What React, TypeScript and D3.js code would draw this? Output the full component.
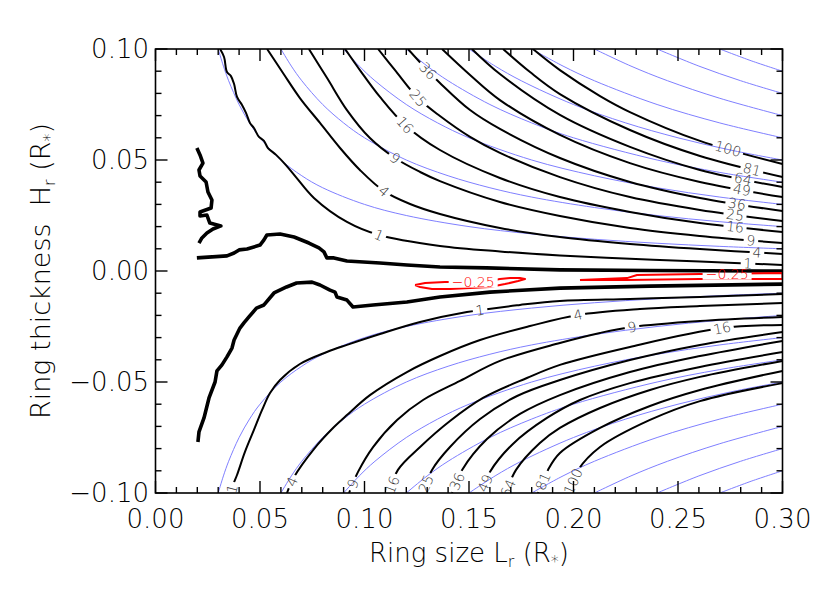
import React from 'react';
import * as d3 from 'd3';

type P = [number, number];

// ---------- axes ----------
const xTickValues = [0, 0.05, 0.1, 0.15, 0.2, 0.25, 0.3];
const xTickLabels = ['0.00', '0.05', '0.10', '0.15', '0.20', '0.25', '0.30'];
const yTickValues = [-0.1, -0.05, 0, 0.05, 0.1];
const yTickLabels = ['\u22120.10', '\u22120.05', '0.00', '0.05', '0.10'];

// ---------- contour levels ----------
const levels = ['1', '4', '9', '16', '25', '36', '49', '64', '81', '100'];

// black contours above zero (x = ring size, y = ring thickness)
const upperBlack: P[][] = [
  [[0.0309, 0.1], [0.0328, 0.0964], [0.0342, 0.0896], [0.0361, 0.0878], [0.0376, 0.0842], [0.039, 0.0784], [0.0414, 0.0748], [0.0433, 0.0712], [0.0452, 0.0667], [0.0471, 0.0644], [0.0495, 0.0604], [0.0519, 0.0586], [0.0538, 0.0554], [0.0577, 0.0523], [0.0624, 0.0477], [0.0672, 0.0423], [0.0758, 0.0329], [0.0916, 0.0221], [0.1069, 0.0162], [0.1361, 0.0113], [0.1648, 0.0088], [0.1935, 0.007], [0.227, 0.0055], [0.2605, 0.0043], [0.3, 0.0027]],
  [[0.0534, 0.1], [0.061, 0.0892], [0.0691, 0.0779], [0.0787, 0.0667], [0.0883, 0.0554], [0.0978, 0.0455], [0.1093, 0.036], [0.1218, 0.0302], [0.1361, 0.0257], [0.1648, 0.0194], [0.1935, 0.0153], [0.227, 0.0122], [0.2605, 0.0099], [0.3, 0.0077]],
  [[0.0734, 0.1], [0.0821, 0.0869], [0.0916, 0.0725], [0.1026, 0.0599], [0.1146, 0.0509], [0.1266, 0.0446], [0.1361, 0.0405], [0.1648, 0.0311], [0.1935, 0.0248], [0.227, 0.0194], [0.2605, 0.0158], [0.3, 0.0126]],
  [[0.0907, 0.1], [0.0978, 0.0905], [0.1074, 0.0784], [0.1194, 0.0658], [0.1361, 0.0545], [0.1648, 0.0419], [0.1935, 0.0333], [0.227, 0.0266], [0.2605, 0.0216], [0.3, 0.0176]],
  [[0.1065, 0.1], [0.1146, 0.0905], [0.1256, 0.0779], [0.1361, 0.0698], [0.1505, 0.0604], [0.1648, 0.0532], [0.1935, 0.0423], [0.227, 0.0333], [0.2605, 0.0275], [0.3, 0.0225]],
  [[0.1208, 0.1], [0.1304, 0.0901], [0.1361, 0.0847], [0.1505, 0.0725], [0.1648, 0.064], [0.1935, 0.0509], [0.227, 0.0401], [0.2605, 0.0329], [0.3, 0.027]],
  [[0.1371, 0.1], [0.1505, 0.0883], [0.1648, 0.077], [0.1935, 0.0613], [0.227, 0.0486], [0.2605, 0.0401], [0.3, 0.0333]],
  [[0.1514, 0.1], [0.1648, 0.0887], [0.1935, 0.0703], [0.227, 0.0559], [0.2605, 0.0455], [0.3, 0.0378]],
  [[0.1663, 0.1], [0.1792, 0.0896], [0.1935, 0.0797], [0.227, 0.0635], [0.2605, 0.0518], [0.3, 0.0423]],
  [[0.1806, 0.1], [0.1935, 0.0905], [0.2127, 0.0788], [0.227, 0.0716], [0.2605, 0.0586], [0.3, 0.0482]],
];
const upperLabelX: number[][] = [
  [0.1069, 0.2835], [0.1093, 0.2878], [0.1146, 0.2849], [0.1194, 0.2773], [0.1256, 0.2773],
  [0.1304, 0.2782], [0.2806], [0.2811], [0.2854], [0.2739],
];

// black contours below zero
const lowerBlack: P[][] = [
  [[0.0361, -0.1], [0.0371, -0.0964], [0.039, -0.0919], [0.0428, -0.0815], [0.0471, -0.0716], [0.051, -0.0626], [0.0548, -0.055], [0.0596, -0.0491], [0.0691, -0.0419], [0.082, -0.0365], [0.0916, -0.0333], [0.1074, -0.0284], [0.1266, -0.023], [0.149, -0.0185], [0.1744, -0.0153], [0.1935, -0.0135], [0.227, -0.0126], [0.2605, -0.0117], [0.3, -0.0104]],
  [[0.0629, -0.1], [0.0663, -0.0928], [0.0758, -0.0802], [0.0854, -0.0703], [0.0916, -0.0649], [0.1026, -0.0559], [0.1203, -0.0455], [0.1361, -0.0383], [0.1553, -0.0311], [0.1792, -0.0248], [0.2021, -0.0198], [0.2318, -0.0171], [0.2605, -0.0158], [0.3, -0.0144]],
  [[0.0926, -0.1], [0.0969, -0.0905], [0.1041, -0.0793], [0.1156, -0.0671], [0.128, -0.0581], [0.1457, -0.0495], [0.1648, -0.0405], [0.1935, -0.0324], [0.2127, -0.0279], [0.228, -0.0252], [0.2605, -0.0225], [0.3, -0.0207]],
  [[0.1117, -0.1], [0.116, -0.0896], [0.1266, -0.0793], [0.1409, -0.0676], [0.1567, -0.0572], [0.1777, -0.0482], [0.1935, -0.0423], [0.227, -0.0342], [0.2711, -0.0257], [0.3, -0.0243]],
  [[0.1275, -0.1], [0.1323, -0.0896], [0.1409, -0.0793], [0.1553, -0.0667], [0.173, -0.0563], [0.1935, -0.0491], [0.227, -0.0401], [0.2605, -0.0333], [0.3, -0.0275]],
  [[0.1419, -0.1], [0.1467, -0.0896], [0.1586, -0.0757], [0.1744, -0.0644], [0.1935, -0.0559], [0.227, -0.0455], [0.2605, -0.0383], [0.3, -0.0315]],
  [[0.1557, -0.1], [0.16, -0.0905], [0.171, -0.0779], [0.1873, -0.0662], [0.2031, -0.0581], [0.227, -0.0505], [0.2605, -0.0432], [0.3, -0.0365]],
  [[0.1677, -0.1], [0.1725, -0.0896], [0.1839, -0.0775], [0.1935, -0.0707], [0.2127, -0.0617], [0.2366, -0.0536], [0.2605, -0.0477], [0.3, -0.0405]],
  [[0.183, -0.1], [0.1878, -0.0896], [0.1935, -0.082], [0.2127, -0.0707], [0.2366, -0.0608], [0.2605, -0.0536], [0.3, -0.045]],
  [[0.1974, -0.1], [0.2022, -0.0896], [0.2127, -0.0793], [0.2366, -0.0671], [0.2605, -0.0586], [0.3, -0.0505]],
];
const lowerLabelX: number[][] = [
  [0.0366, 0.1553], [0.0653, 0.2021], [0.0945, 0.228], [0.1132, 0.2711], [0.1294],
  [0.1443], [0.1577], [0.1687], [0.1854], [0.1998],
];

// zero-level contours (thick)
const zeroUpperLeft: P[] = [
  [0.0198, 0.0554], [0.0213, 0.0523], [0.0227, 0.0486], [0.0208, 0.0455], [0.0213, 0.0428], [0.0242, 0.0401], [0.0251, 0.0356], [0.027, 0.032], [0.0266, 0.0284], [0.0213, 0.0266], [0.0213, 0.0248], [0.0246, 0.0252], [0.026, 0.0216], [0.0313, 0.0203], [0.0275, 0.0189], [0.0246, 0.0171], [0.0222, 0.0149], [0.0208, 0.0126],
];
const zeroUpper: P[] = [
  [0.0198, 0.0059], [0.0342, 0.0068], [0.0376, 0.0081], [0.04, 0.0095], [0.0438, 0.0099], [0.05, 0.0117], [0.0519, 0.014], [0.0533, 0.0162], [0.0596, 0.0167], [0.0663, 0.0153], [0.0734, 0.0126], [0.0782, 0.0104], [0.0806, 0.0086], [0.082, 0.0059], [0.0854, 0.0059], [0.0916, 0.0045], [0.1074, 0.0036], [0.1203, 0.0027], [0.1361, 0.0018], [0.1585, 0.0014], [0.1935, 0.0005], [0.2366, 0.0002], [0.3, 0.0],
];
const zeroLower: P[] = [
  [0.0203, -0.077], [0.0208, -0.0725], [0.0232, -0.0662], [0.0256, -0.0572], [0.0285, -0.05], [0.0294, -0.045], [0.0318, -0.0423], [0.0342, -0.0387], [0.0366, -0.0347], [0.0376, -0.0311], [0.0404, -0.0257], [0.0423, -0.0234], [0.0447, -0.0207], [0.0483, -0.0167], [0.0519, -0.0153], [0.0567, -0.0099], [0.0627, -0.0072], [0.0675, -0.0054], [0.0749, -0.005], [0.0787, -0.0063], [0.0835, -0.0086], [0.0859, -0.0095], [0.0868, -0.0117], [0.0916, -0.0131], [0.0945, -0.0162], [0.1041, -0.0153], [0.1203, -0.014], [0.1361, -0.0117], [0.16, -0.0095], [0.1935, -0.0077], [0.2366, -0.0068], [0.3, -0.0059],
];

// negative level (-0.25) contours
const redLoops: P[][] = [
  [[0.1242, -0.0063], [0.129, -0.0054], [0.1385, -0.005], [0.1457, -0.005], [0.16, -0.0045], [0.1648, -0.0036], [0.1696, -0.0032], [0.1744, -0.0032], [0.1768, -0.0036], [0.1735, -0.0045], [0.1672, -0.0059], [0.16, -0.0072], [0.1505, -0.0077], [0.1409, -0.0081], [0.1323, -0.0081], [0.1266, -0.0072], [0.1242, -0.0063]],
  [[0.2031, -0.0041], [0.2256, -0.0032], [0.2304, -0.0018], [0.2605, -0.0014], [0.3, -0.0009], [0.3, -0.0036], [0.2605, -0.0036], [0.2256, -0.0041], [0.2031, -0.0041]],
];
const redLabelX = [0.152, 0.2735];
const redLabel = '\u22120.25';

// analytic approximation contours (thin blue), same levels, mirrored about zero
const blueCurves: P[][] = [
  [[0.03, 0.1], [0.0325, 0.0923], [0.035, 0.0857], [0.04, 0.075], [0.045, 0.0667], [0.05, 0.06], [0.06, 0.05], [0.07, 0.0429], [0.08, 0.0375], [0.1, 0.03], [0.12, 0.025], [0.15, 0.02], [0.18, 0.0167], [0.21, 0.0143], [0.24, 0.0125], [0.27, 0.0111], [0.3, 0.01]],
  [[0.06, 0.1], [0.065, 0.0923], [0.07, 0.0857], [0.08, 0.075], [0.09, 0.0667], [0.1, 0.06], [0.12, 0.05], [0.14, 0.0429], [0.16, 0.0375], [0.18, 0.0333], [0.21, 0.0286], [0.24, 0.025], [0.27, 0.0222], [0.3, 0.02]],
  [[0.09, 0.1], [0.0975, 0.0923], [0.105, 0.0857], [0.12, 0.075], [0.135, 0.0667], [0.15, 0.06], [0.18, 0.05], [0.21, 0.0429], [0.24, 0.0375], [0.27, 0.0333], [0.3, 0.03]],
  [[0.12, 0.1], [0.13, 0.0923], [0.14, 0.0857], [0.16, 0.075], [0.18, 0.0667], [0.2, 0.06], [0.24, 0.05], [0.27, 0.0444], [0.3, 0.04]],
  [[0.15, 0.1], [0.1625, 0.0923], [0.175, 0.0857], [0.2, 0.075], [0.225, 0.0667], [0.25, 0.06], [0.275, 0.0545], [0.3, 0.05]],
  [[0.18, 0.1], [0.195, 0.0923], [0.21, 0.0857], [0.24, 0.075], [0.27, 0.0667], [0.3, 0.06]],
  [[0.21, 0.1], [0.2275, 0.0923], [0.245, 0.0857], [0.27, 0.0778], [0.3, 0.07]],
  [[0.24, 0.1], [0.26, 0.0923], [0.28, 0.0857], [0.3, 0.08]],
  [[0.27, 0.1], [0.285, 0.0947], [0.3, 0.09]],
];

// ---------- layout ----------
const W = 830;
const H = 593;
const left = 155.5, right = 782.5, top = 49, bottom = 493;
const xs = d3.scaleLinear().domain([0, 0.3]).range([left, right]);
const ys = d3.scaleLinear().domain([-0.1, 0.1]).range([bottom, top]);

const smooth = d3.line<P>().x(d => xs(d[0])).y(d => ys(d[1])).curve(d3.curveCatmullRom.alpha(0.5));
const jagged = d3.line<P>().x(d => xs(d[0])).y(d => ys(d[1])).curve(d3.curveLinear);
const mirrored = d3.line<P>().x(d => xs(d[0])).y(d => ys(-d[1])).curve(d3.curveCatmullRom.alpha(0.5));

function pose(pts: P[], lx: number) {
  const p = pts.map(d => [xs(d[0]), ys(d[1])]);
  const px = xs(lx);
  for (let i = 0; i < p.length - 1; i++) {
    const a = p[i], b = p[i + 1];
    if ((px - a[0]) * (px - b[0]) <= 0 && a[0] !== b[0]) {
      const t = (px - a[0]) / (b[0] - a[0]);
      const yy = a[1] + t * (b[1] - a[1]);
      let ang = (Math.atan2(b[1] - a[1], b[0] - a[0]) * 180) / Math.PI;
      if (ang > 90) ang -= 180;
      if (ang < -90) ang += 180;
      return { x: px, y: yy, ang };
    }
  }
  return { x: px, y: ys(pts[pts.length - 1][1]), ang: 0 };
}

const FONT = "'DejaVu Sans', 'Liberation Sans', sans-serif";
const LABEL_SIZE = 14;

type Lab = { x: number; y: number; ang: number; text: string };

function Curve({ id, pts, labels, stroke, width, gen }: { id: string; pts: P[]; labels: Lab[]; stroke: string; width: number; gen: any }) {
  return (
    <g>
      <mask id={id} maskUnits="userSpaceOnUse" x={0} y={0} width={W} height={H}>
        <rect x={0} y={0} width={W} height={H} fill="white" />
        {labels.map((l, i) => {
          const w = l.text.length * 8.6 + 6;
          return (
            <rect key={i} x={-w / 2} y={-6} width={w} height={12} fill="black"
              transform={`translate(${l.x},${l.y}) rotate(${l.ang})`} />
          );
        })}
      </mask>
      <path d={gen(pts)} fill="none" stroke={stroke} strokeWidth={width} mask={`url(#${id})`} strokeLinejoin="round" />
    </g>
  );
}

export default function App() {
  const xMinor = d3.range(0, 0.3001, 0.01);
  const yMinor = d3.range(-0.1, 0.1001, 0.01);

  const upperLabs: Lab[][] = upperBlack.map((pts, i) =>
    upperLabelX[i].map(lx => ({ ...pose(pts, lx), text: levels[i] })));
  const lowerLabs: Lab[][] = lowerBlack.map((pts, i) =>
    lowerLabelX[i].map(lx => ({ ...pose(pts, lx), text: levels[i] })));
  const redLabs: Lab[][] = redLoops.map((pts, i) => {
    const pp = pose(pts.slice(0, Math.ceil(pts.length / 2)), redLabelX[i]);
    return [{ ...pp, ang: 0, text: redLabel }];
  });

  return (
    <svg width={W} height={H} style={{ position: 'absolute', left: 0, top: 0, background: 'white' }}
      xmlns="http://www.w3.org/2000/svg">
      <defs>
        <clipPath id="plot">
          <rect x={left} y={top} width={right - left} height={bottom - top} />
        </clipPath>
      </defs>
      <rect x={0} y={0} width={W} height={H} fill="white" />
      <g clipPath="url(#plot)">
        {blueCurves.map((pts, i) => (
          <g key={'b' + i}>
            <path d={smooth(pts) || ''} fill="none" stroke="#7f7fff" strokeWidth={1} />
            <path d={mirrored(pts) || ''} fill="none" stroke="#7f7fff" strokeWidth={1} />
          </g>
        ))}
        {upperBlack.map((pts, i) => (
          <Curve key={'u' + i} id={'mu' + i} pts={pts} labels={upperLabs[i]} stroke="#000" width={2} gen={smooth} />
        ))}
        {lowerBlack.map((pts, i) => (
          <Curve key={'l' + i} id={'ml' + i} pts={pts} labels={lowerLabs[i]} stroke="#000" width={2} gen={smooth} />
        ))}
        <path d={jagged(zeroUpperLeft) || ''} fill="none" stroke="#000" strokeWidth={3.6} strokeLinejoin="round" />
        <path d={jagged(zeroUpper) || ''} fill="none" stroke="#000" strokeWidth={3.6} strokeLinejoin="round" />
        <path d={jagged(zeroLower) || ''} fill="none" stroke="#000" strokeWidth={3.6} strokeLinejoin="round" />
        {redLoops.map((pts, i) => (
          <Curve key={'r' + i} id={'mr' + i} pts={pts} labels={redLabs[i]} stroke="#ff0000" width={2} gen={jagged} />
        ))}
        {[...upperLabs, ...lowerLabs].flat().map((l, i) => (
          <text key={'t' + i} transform={`translate(${l.x},${l.y}) rotate(${l.ang})`} textAnchor="middle"
            dominantBaseline="central" fontFamily={FONT} fontSize={LABEL_SIZE} fontWeight={300} fill="#333">{l.text}</text>
        ))}
        {redLabs.flat().map((l, i) => (
          <text key={'rt' + i} transform={`translate(${l.x},${l.y})`} textAnchor="middle"
            dominantBaseline="central" fontFamily={FONT} fontSize={LABEL_SIZE} fontWeight={300} fill="#ff0000">{l.text}</text>
        ))}
      </g>

      {/* frame */}
      <rect x={left} y={top} width={right - left} height={bottom - top} fill="none" stroke="#000" strokeWidth={1.6} />
      {xMinor.map((v, i) => {
        const major = i % 5 === 0;
        const L = major ? 12 : 6;
        return (
          <g key={'xt' + i}>
            <line x1={xs(v)} x2={xs(v)} y1={bottom} y2={bottom - L} stroke="#000" strokeWidth={1.4} />
            <line x1={xs(v)} x2={xs(v)} y1={top} y2={top + L} stroke="#000" strokeWidth={1.4} />
          </g>
        );
      })}
      {yMinor.map((v, i) => {
        const major = i % 5 === 0;
        const L = major ? 12 : 6;
        return (
          <g key={'yt' + i}>
            <line x1={left} x2={left + L} y1={ys(v)} y2={ys(v)} stroke="#000" strokeWidth={1.4} />
            <line x1={right} x2={right - L} y1={ys(v)} y2={ys(v)} stroke="#000" strokeWidth={1.4} />
          </g>
        );
      })}
      {xTickValues.map((v, i) => (
        <text key={'xl' + i} x={xs(v)} y={528} textAnchor="middle" fontFamily={FONT} fontSize={26} fontWeight={300}>{xTickLabels[i]}</text>
      ))}
      {yTickValues.map((v, i) => (
        <text key={'yl' + i} x={149} y={ys(v)} textAnchor="end" dominantBaseline="central" fontFamily={FONT} fontSize={26} fontWeight={300}>{yTickLabels[i]}</text>
      ))}
      <text x={(left + right) / 2} y={562} textAnchor="middle" fontFamily={FONT} fontSize={26} fontWeight={300}>
        Ring size L<tspan fontSize={16} dy={5}>r</tspan><tspan dy={-5}> (R</tspan><tspan fontSize={16} dy={5}>*</tspan><tspan dy={-5}>)</tspan>
      </text>
      <text transform={`translate(50,${(top + bottom) / 2}) rotate(-90)`} textAnchor="middle" fontFamily={FONT} fontSize={27} fontWeight={300}>
        Ring thickness{'\u00a0\u00a0'}H<tspan fontSize={16} dy={5}>r</tspan><tspan dy={-5}> (R</tspan><tspan fontSize={16} dy={5}>*</tspan><tspan dy={-5}>)</tspan>
      </text>
    </svg>
  );
}
